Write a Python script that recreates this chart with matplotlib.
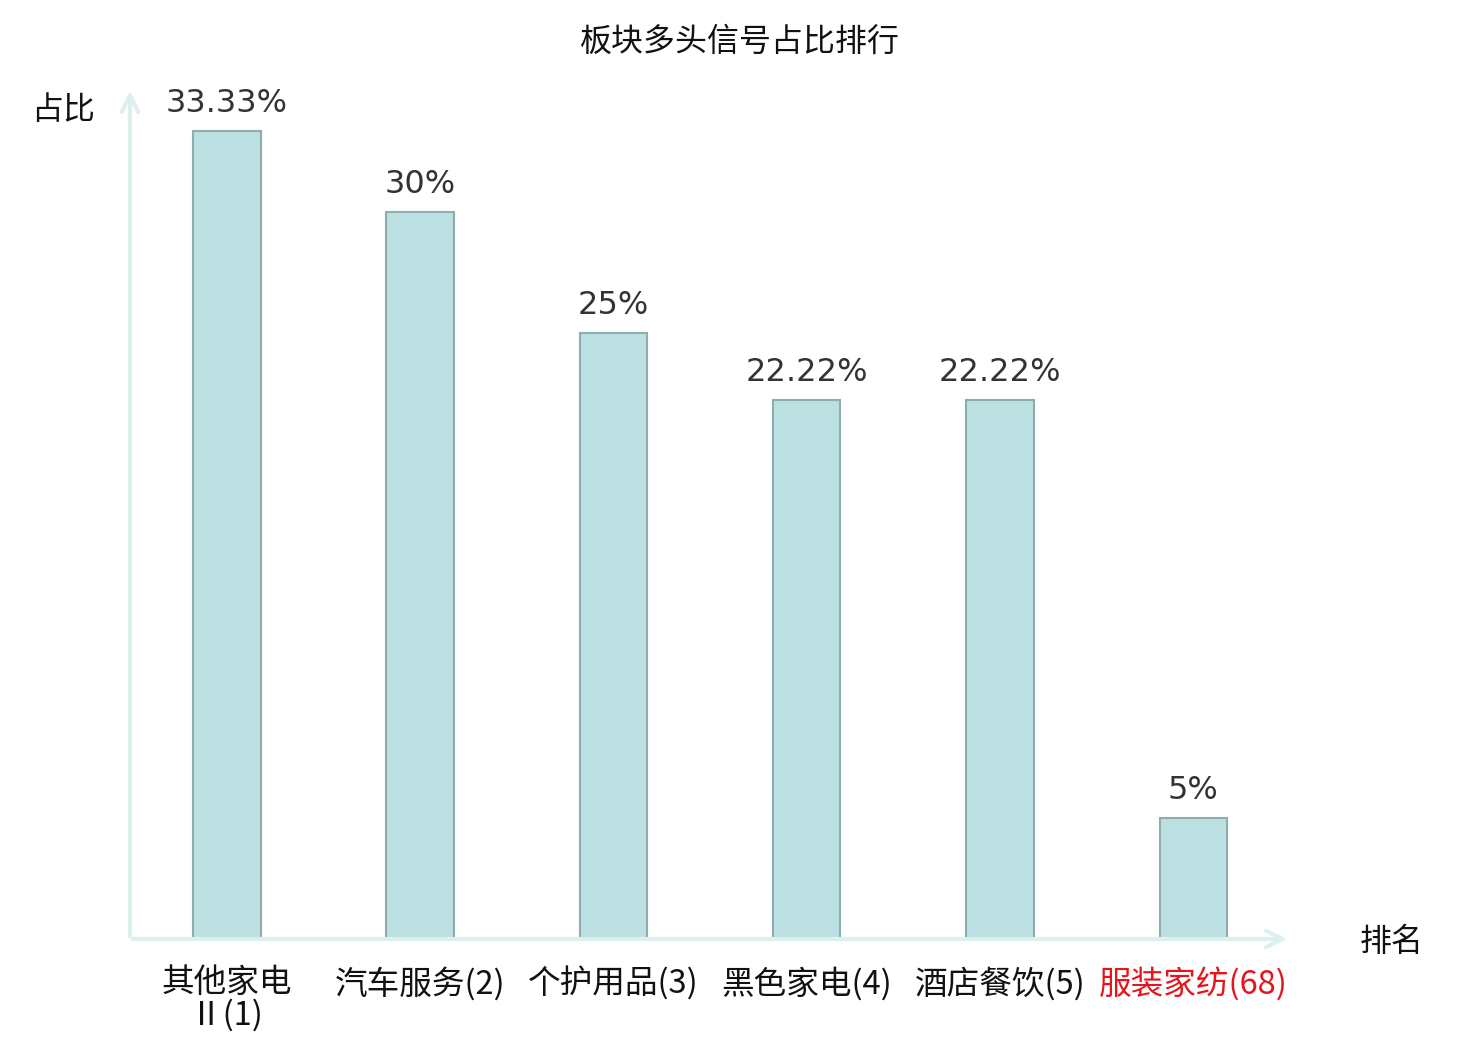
import matplotlib
matplotlib.use("Agg")
import matplotlib.pyplot as plt

plt.rcParams['font.family'] = ['Noto Sans CJK SC', 'DejaVu Sans']

# Datos
categorias = ["其他家电\nⅡ(1)", "汽车服务(2)", "个护用品(3)", "黑色家电(4)", "酒店餐饮(5)", "服装家纺(68)"]
valores = [33.33, 30, 25, 22.22, 22.22, 5]
etiquetas = ["33.33%", "30%", "25%", "22.22%", "22.22%", "5%"]
colores_txt = ["#111111"] * 5 + ["#e8141c"]

fig = plt.figure(figsize=(14.8, 10.4), dpi=100)
# ejes: x de 130 a 1290 px, y de 88 a 939 px
ax = fig.add_axes([130 / 1480, 1 - 939 / 1040, 1160 / 1480, 851 / 1040])

x = list(range(len(valores)))
ax.bar(x, valores, width=0.35, color="#bde0e3", edgecolor="#8eadad", linewidth=1.5, zorder=2)

for xi, v, t in zip(x, valores, etiquetas):
    ax.text(xi, v + 0.5, t, ha="center", va="bottom", fontsize=23, color="#333333",
            family="DejaVu Sans")

ax.set_xlim(-0.5, 5.5)
ax.set_ylim(0, 35.1)

for s in ax.spines.values():
    s.set_visible(False)
ax.set_yticks([])
ax.set_xticks(x)
ax.set_xticklabels(categorias, fontsize=23.5, linespacing=1.0)
for lab, c in zip(ax.get_xticklabels(), colores_txt):
    lab.set_color(c)
ax.tick_params(axis="x", length=0, pad=20)

# flechas de los ejes
eje_color = "#dcf0ee"
ax.annotate("", xy=(1, 0), xytext=(0, 0), xycoords="axes fraction",
            arrowprops=dict(arrowstyle="->", color=eje_color, lw=3, mutation_scale=30),
            annotation_clip=False)
ax.annotate("", xy=(0, 1), xytext=(0, 0), xycoords="axes fraction",
            arrowprops=dict(arrowstyle="->", color=eje_color, lw=3, mutation_scale=30),
            annotation_clip=False)

fig.text(1392 / 1480, 1 - 942 / 1040, "排名", ha="center", va="center", fontsize=23, color="#111111")
fig.text(63 / 1480, 1 - 110 / 1040, "占比", ha="center", va="center", fontsize=23, color="#111111")
fig.text(740 / 1480, 1 - 42 / 1040, "板块多头信号占比排行", ha="center", va="center", fontsize=23,
         color="#111111")

fig.savefig("out.png", dpi=100)
